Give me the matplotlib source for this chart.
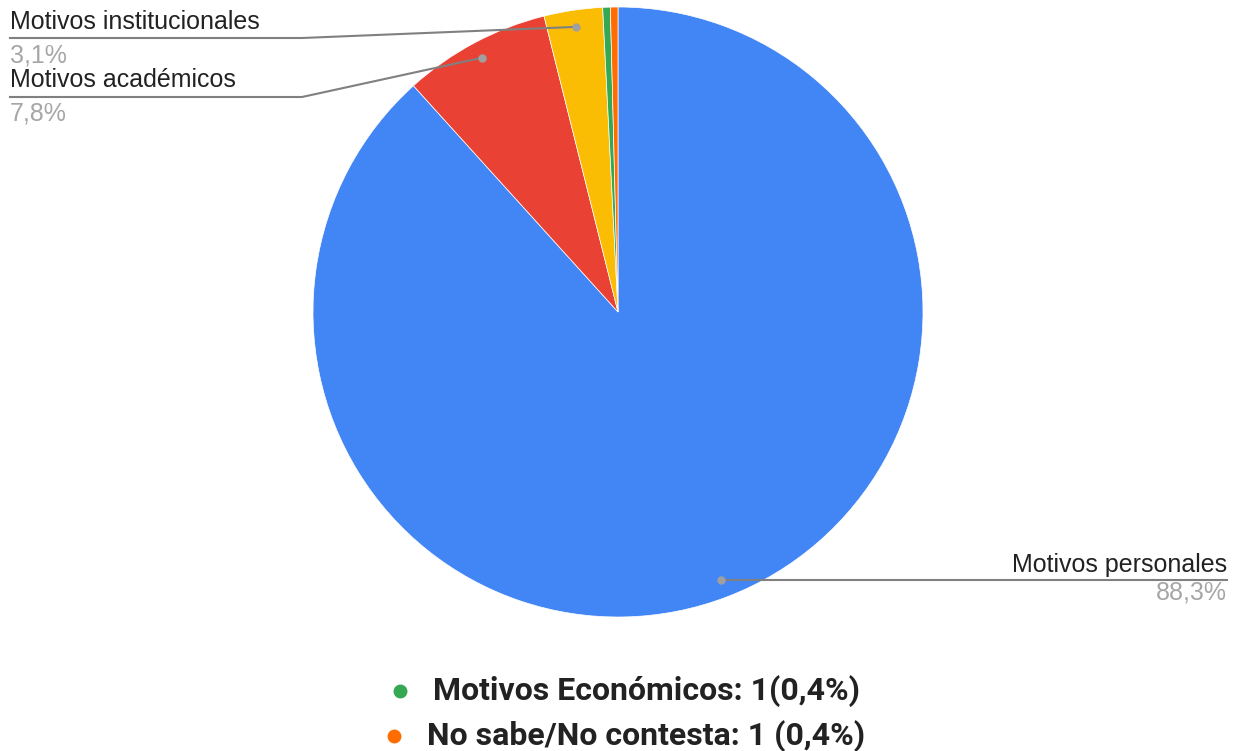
import matplotlib
matplotlib.use("Agg")
import matplotlib.pyplot as plt
import numpy as np

categories = ["Motivos personales", "Motivos académicos", "Motivos institucionales",
              "Motivos Económicos", "No sabe/No contesta"]
values = [88.3, 7.8, 3.1, 0.4, 0.4]
pct_labels = ["88,3%", "7,8%", "3,1%"]
legend_labels = ["Motivos Económicos: 1(0,4%)", "No sabe/No contesta: 1 (0,4%)"]
colors = ["#4285F4", "#E94235", "#FBBC04", "#34A853", "#FF6D01"]

plt.rcParams['font.family'] = ['Liberation Sans', 'DejaVu Sans']

W, H = 1243, 751
fig = plt.figure(figsize=(W / 100, H / 100), dpi=100)
ax = fig.add_axes([0, 0, 1, 1])

cx, cy, R = 618, H - 312, 305
wedges, _ = ax.pie(values, colors=colors, startangle=90, counterclock=False,
                   center=(cx, cy), radius=R,
                   wedgeprops=dict(edgecolor="white", linewidth=0.5))
ax.set_xlim(0, W)
ax.set_ylim(0, H)
ax.set_aspect("equal")
ax.axis("off")

def anchor(i, frac):
    w = wedges[i]
    ang = np.deg2rad((w.theta1 + w.theta2) / 2)
    return cx + frac * R * np.cos(ang), cy + frac * R * np.sin(ang)

line_col = "#808080"
dark = "#222222"
gray = "#A6A6A6"
lab_fs = 18

# Motivos personales
px, py = anchor(0, 0.94)
ax.plot([px, 1227], [py, py], color=line_col, lw=1.5)
ax.plot(px, py, "o", color="#A0A0A0", ms=5)
ax.text(1227, py + 8, categories[0], ha="right", va="baseline", fontsize=lab_fs, color=dark)
ax.text(1227, py - 20, pct_labels[0], ha="right", va="baseline", fontsize=lab_fs, color=gray)

# Motivos académicos
ax_, ay_ = anchor(1, 0.945)
yl = H - 97
ax.plot([10, 302, ax_], [yl, yl, ay_], color=line_col, lw=1.5)
ax.plot(ax_, ay_, "o", color="#A0A0A0", ms=5)
ax.text(10, yl + 10, categories[1], ha="left", va="baseline", fontsize=lab_fs, color=dark)
ax.text(10, yl - 23, pct_labels[1], ha="left", va="baseline", fontsize=lab_fs, color=gray)

# Motivos institucionales
ix, iy = anchor(2, 0.945)
yl = H - 38
ax.plot([10, 302, ix], [yl, yl, iy], color=line_col, lw=1.5)
ax.plot(ix, iy, "o", color="#A0A0A0", ms=5)
ax.text(10, yl + 9, categories[2], ha="left", va="baseline", fontsize=lab_fs, color=dark)
ax.text(10, yl - 24, pct_labels[2], ha="left", va="baseline", fontsize=lab_fs, color=gray)

# Legend-like annotations
ax.plot(400, H - 691, "o", color=colors[3], ms=9)
ax.text(433, H - 691, legend_labels[0], ha="left", va="center", fontsize=23,
        fontweight="bold", color=dark, family=["Roboto", "DejaVu Sans"])
ax.plot(394, H - 736, "o", color=colors[4], ms=9)
ax.text(427, H - 736, legend_labels[1], ha="left", va="center", fontsize=23,
        fontweight="bold", color=dark, family=["Roboto", "DejaVu Sans"])

fig.savefig("out.png", dpi=100, facecolor="white")
